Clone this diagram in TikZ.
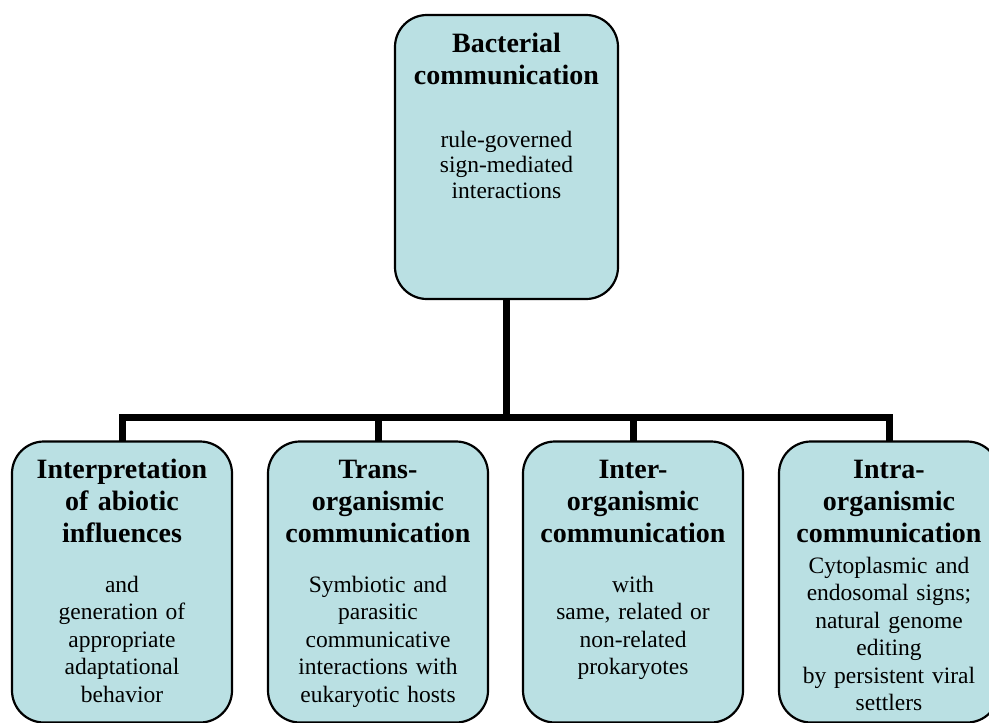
\documentclass[tikz,border=0pt]{standalone}
\usepackage{fontspec}
\setmainfont{Liberation Serif}
\definecolor{boxfill}{RGB}{186,224,227}
\begin{document}
\begin{tikzpicture}[x=1pt,y=-1pt,
  box/.style={draw=black,line width=2.2pt,fill=boxfill,rounded corners=32pt,
    minimum width=220pt,inner sep=0pt,outer sep=0pt},
  ttl/.style={anchor=base,text width=230pt,align=center,inner sep=0pt,
    font=\fontsize{28}{32}\selectfont\bfseries},
  bdy/.style={anchor=base,text width=230pt,align=center,inner sep=0pt,
    font=\fontsize{23.5}{27.5}\selectfont},
  conn/.style={draw=black,line width=7pt,line join=miter}]
\useasboundingbox (0,0) rectangle (989,723);
\clip (0,0) rectangle (989,723);
% boxes
\node[box,minimum width=223pt,minimum height=284pt] (top) at (506.5,157) {};
\node[box,minimum height=281pt] (b1) at (122,582) {};
\node[box,minimum height=281pt] (b2) at (378,582) {};
\node[box,minimum height=281pt] (b3) at (633,582) {};
\node[box,minimum height=281pt] (b4) at (889,582) {};
% connectors
\coordinate (bus) at (506.5,417);
\draw[conn] (top.south) -- (bus);
\draw[conn] (b1.north) |- (bus) -| (b4.north);
\draw[conn] (b2.north) -- (b2.north |- bus);
\draw[conn] (b3.north) -- (b3.north |- bus);
% texts
\node[ttl] (t0) at (506.5,52) {Bacterial\\communication};
\node[bdy,font=\fontsize{23.5}{25.5}\selectfont] (d0) at (506.5,147) {rule-governed\\sign-mediated\\interactions};
\node[ttl] (t1) at (122,478) {Interpretation\\of abiotic\\influences};
\node[bdy] (d1) at (122,592) {and\\generation of\\appropriate\\adaptational\\behavior};
\node[ttl] (t2) at (378,478) {Trans-\\organismic\\communication};
\node[bdy] (d2) at (378,592) {Symbiotic and\\parasitic\\communicative\\interactions with\\eukaryotic hosts};
\node[ttl] (t3) at (633,478) {Inter-\\organismic\\communication};
\node[bdy] (d3) at (633,592) {with\\same, related or\\non-related\\prokaryotes};
\node[ttl] (t4) at (889,478) {Intra-\\organismic\\communication};
\node[bdy] (d4) at (889,573) {Cytoplasmic and\\endosomal signs;\\natural genome\\editing\\by persistent viral\\settlers};
\end{tikzpicture}
\end{document}
